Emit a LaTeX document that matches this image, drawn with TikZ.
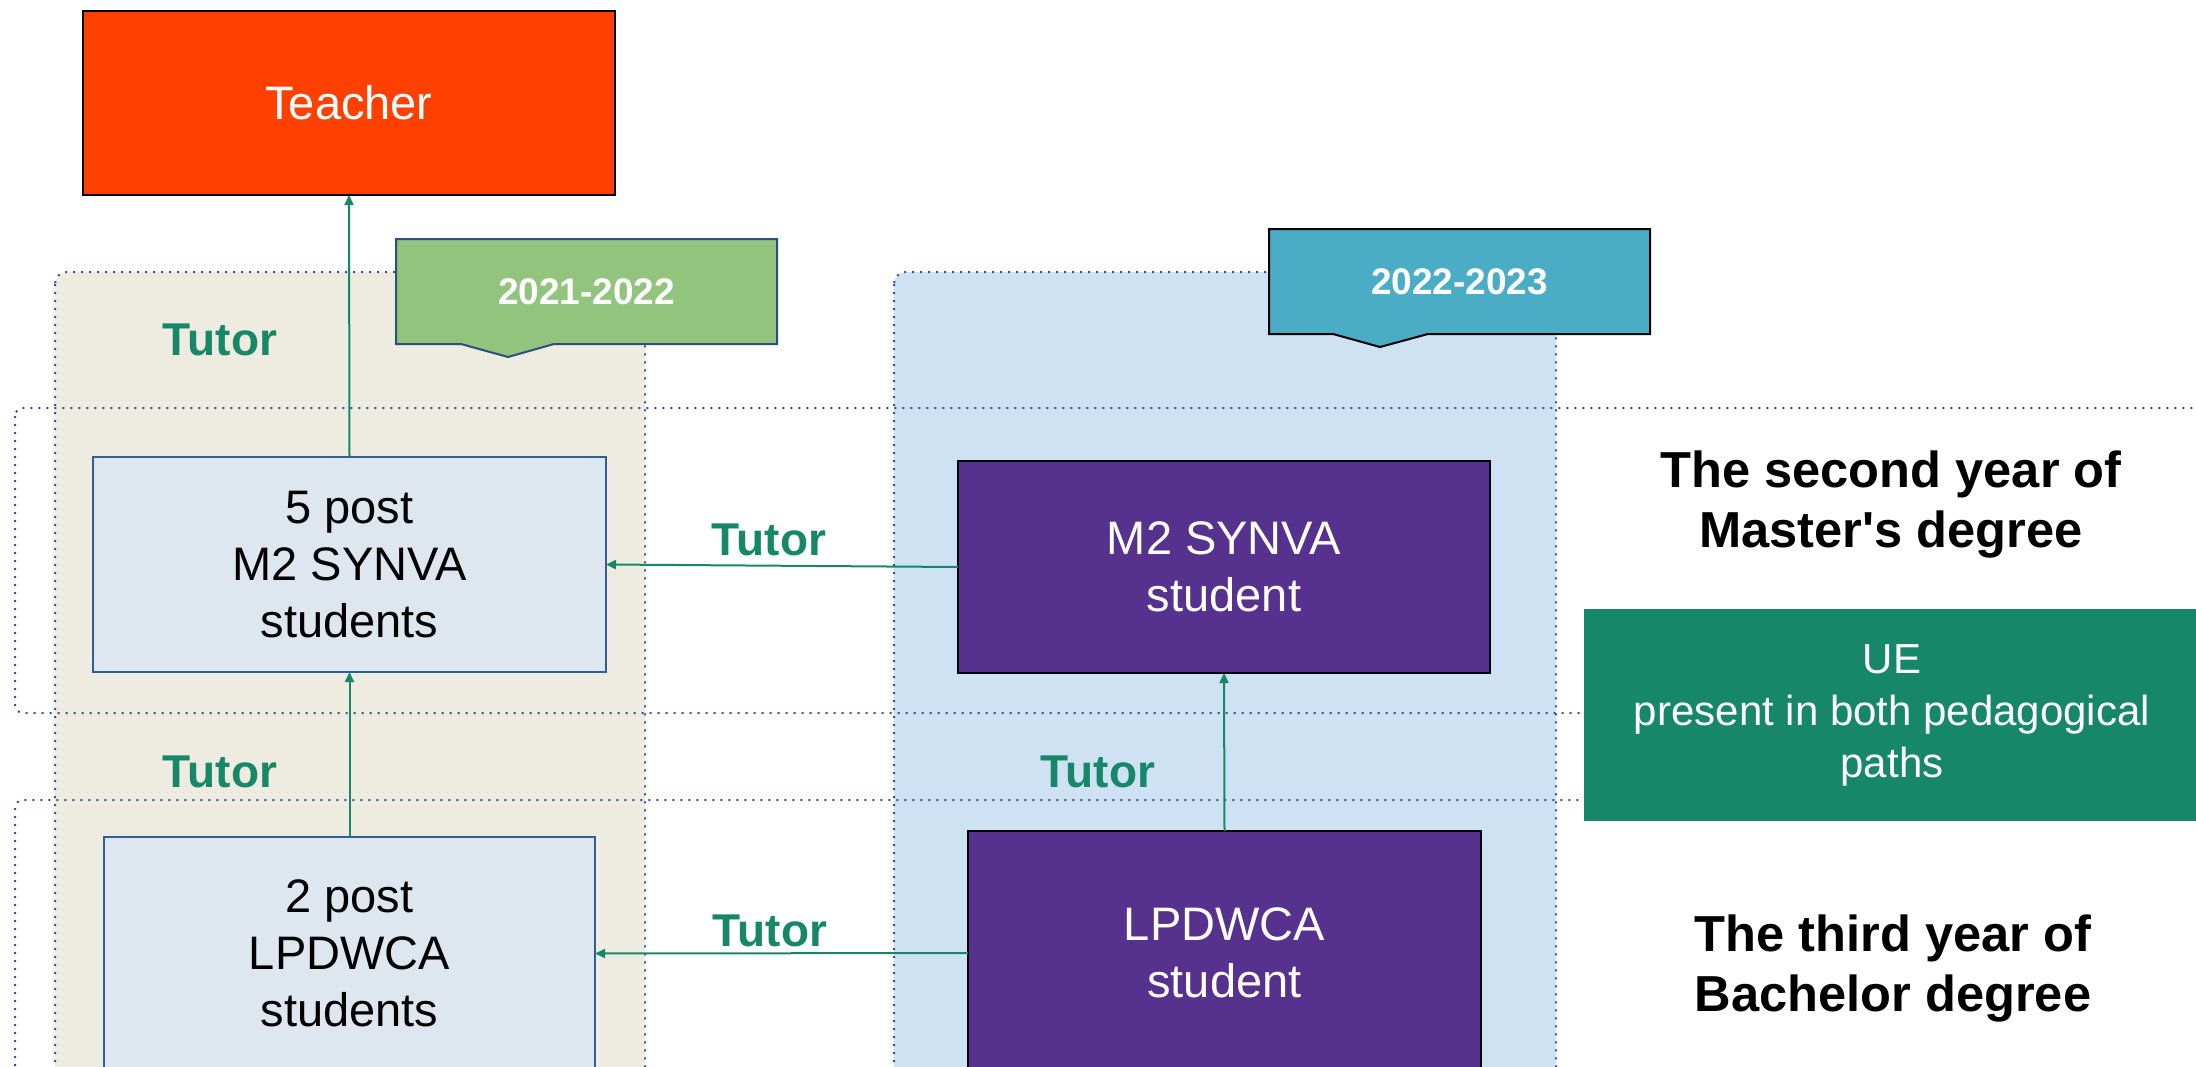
\documentclass[tikz,border=0pt]{standalone}
\usepackage{fontspec}
\setmainfont{Liberation Sans}
% plain family without TeX ligature mapping, so ' stays a straight quote
\newfontfamily\headfont{Liberation Sans}
\usetikzlibrary{arrows.meta}

\definecolor{tutorgreen}{RGB}{23,135,106}
\definecolor{teacherred}{RGB}{255,64,0}
\definecolor{studentpurple}{RGB}{86,49,141}
\definecolor{postfill}{RGB}{222,230,240}
\definecolor{postline}{RGB}{46,95,155}
\definecolor{colbeige}{RGB}{238,235,224}
\definecolor{colblue}{RGB}{207,226,243}
\definecolor{tagonefill}{RGB}{147,196,125}
\definecolor{tagoneline}{RGB}{44,78,128}
\definecolor{tagtwofill}{RGB}{75,172,198}
\definecolor{dotblue}{RGB}{47,85,151}

\begin{document}
\begin{tikzpicture}[x=0.5pt,y=-0.5pt,
  every node/.style={inner sep=0pt, outer sep=0pt},
  dotline/.style={draw=dotblue, line width=1pt, dash pattern=on 1pt off 3pt},
  boxtext/.style={font=\fontsize{23.5}{28.5}\selectfont, align=center},
  teacherbox/.style={boxtext, draw=black, line width=1.4pt, fill=teacherred, text=white},
  postbox/.style={boxtext, draw=postline, line width=1pt, fill=postfill, text=black},
  studentbox/.style={boxtext, draw=black, line width=1.2pt, fill=studentpurple, text=white},
  tutorlabel/.style={font=\fontsize{23}{27}\selectfont\bfseries, text=tutorgreen},
  tagtext/.style={font=\fontsize{18.5}{22}\selectfont\bfseries, text=white},
  tagone/.style={fill=tagonefill, draw=tagoneline, line width=1pt},
  tagtwo/.style={fill=tagtwofill, draw=black, line width=1pt},
  heading/.style={font=\headfont\fontsize{25.3}{30}\selectfont\bfseries, align=center, text=black},
  uebox/.style={font=\fontsize{21}{26}\selectfont, align=center, fill=tutorgreen, text=white},
  tutorarrow/.style={draw=tutorgreen, line width=1pt, -{Triangle[length=5pt,width=4.5pt]}}
]
\clip (0,0) rectangle (2196,1066);

% year columns
\path[fill=colbeige, dotline, rounded corners=6pt] (55,272) rectangle (645,1130);
\path[fill=colblue, dotline, rounded corners=6pt] (894,272) rectangle (1556,1130);

% degree rows
\draw[dotline, rounded corners=4pt] (15,408) rectangle (2260,713);
\draw[dotline, rounded corners=4pt] (15,800) rectangle (2260,1130);

% year tags
\path[tagone] (396,239) -- (777,239) -- (777,344) -- (554,344) -- (508,357) -- (461,344) -- (396,344) -- cycle;
\node[tagtext] (yearone) at (586.5,291.5) {2021-2022};
\path[tagtwo] (1269,229) -- (1650,229) -- (1650,334) -- (1428,334) -- (1380,347) -- (1333,334) -- (1269,334) -- cycle;
\node[tagtext] (yeartwo) at (1459.5,281.5) {2022-2023};

% boxes
\node[teacherbox, minimum width=266pt, minimum height=92pt] (teacher) at (349,103) {Teacher};
\node[postbox, minimum width=256.5pt, minimum height=107.5pt] (post5) at (349.5,564.5) {5 post\\M2 SYNVA\\students};
\node[postbox, minimum width=245.5pt, minimum height=116.5pt] (post2) at (349.5,953.5) {2 post\\LPDWCA\\students};
\node[studentbox, minimum width=266pt, minimum height=106pt] (m2s) at (1224,567) {M2 SYNVA\\student};
\node[studentbox, minimum width=256.5pt, minimum height=122pt] (lps) at (1224.5,953) {LPDWCA\\student};

% tutoring links
\draw[tutorarrow] (post5.north) -- (teacher.south);
\draw[tutorarrow] (post2.north) -- (post5.south);
\draw[tutorarrow] (m2s.west) -- (post5.east);
\draw[tutorarrow] (lps.north) -- (m2s.south);
\draw[tutorarrow] (lps.west) -- (post2.east);

% link labels
\node[tutorlabel] (tutora) at (220,340) {Tutor};
\node[tutorlabel] (tutorb) at (769,540) {Tutor};
\node[tutorlabel] (tutorc) at (220,772) {Tutor};
\node[tutorlabel] (tutord) at (1098,772) {Tutor};
\node[tutorlabel] (tutore) at (770,931) {Tutor};

% right-hand side
\node[uebox, minimum width=308pt, minimum height=106pt] (ue) at (1892,715) {UE\\present in both pedagogical\\paths};
\node[heading] (master) at (1891,505) {The second year of\\Master's degree};
\node[heading] (bachelor) at (1893,969) {The third year of\\Bachelor degree};
\end{tikzpicture}
\end{document}
